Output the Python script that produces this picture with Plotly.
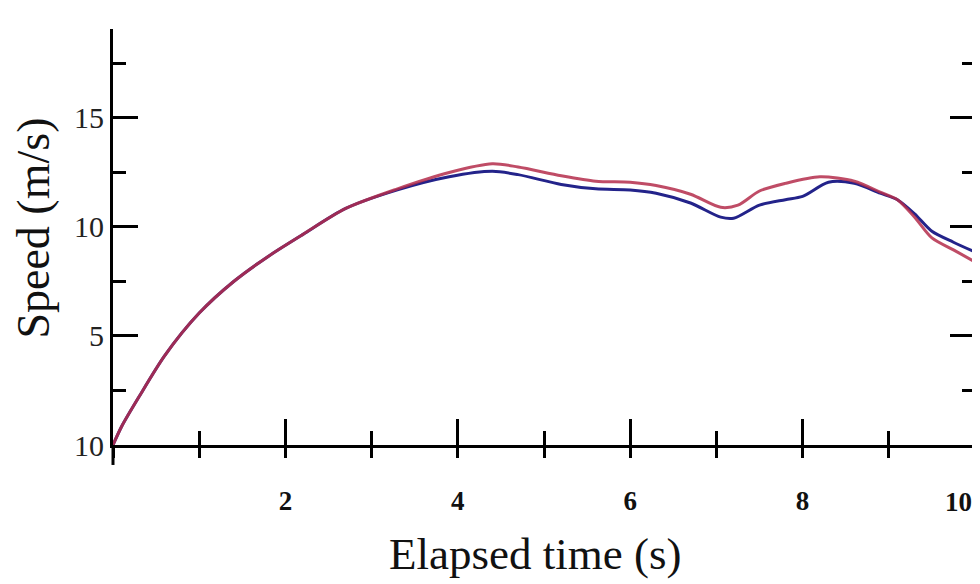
import plotly.graph_objects as go

# Data
time_red = [0, 0.1, 0.3, 0.6, 1.0, 1.4, 1.8, 2.2, 2.7, 3.3, 3.9, 4.4, 4.7, 5.2, 5.6, 6.0,
            6.3, 6.7, 7.05, 7.25, 7.5, 7.8, 8.2, 8.6, 8.9, 9.1, 9.3, 9.5, 9.75, 10.0]
speed_red = [0, 0.85, 2.2, 4.1, 6.05, 7.5, 8.65, 9.65, 10.85, 11.75, 12.5, 12.9, 12.75, 12.35, 12.1, 12.05,
             11.9, 11.5, 10.9, 11.0, 11.65, 12.0, 12.3, 12.1, 11.6, 11.25, 10.45, 9.5, 8.95, 8.4]

time_blue = [0, 0.1, 0.3, 0.6, 1.0, 1.4, 1.8, 2.2, 2.7, 3.3, 3.9, 4.4, 4.7, 5.2, 5.6, 6.0,
             6.3, 6.7, 7.05, 7.2, 7.5, 7.8, 8.0, 8.3, 8.6, 8.9, 9.1, 9.3, 9.5, 9.75, 10.0]
speed_blue = [0, 0.85, 2.2, 4.1, 6.05, 7.5, 8.65, 9.65, 10.85, 11.7, 12.3, 12.55, 12.4, 11.95, 11.75, 11.7,
              11.55, 11.1, 10.45, 10.4, 11.0, 11.25, 11.4, 12.05, 12.0, 11.55, 11.25, 10.6, 9.8, 9.3, 8.85]

x_tick_vals = [2, 4, 6, 8]
x_tick_text = ["2", "4", "6", "8"]
x_last_tick_val = 10
x_last_tick_text = "10"
y_tick_vals = [0, 5, 10, 15]
y_tick_text = ["10", "5", "10", "15"]

x_title = "Elapsed time (s)"
y_title = "Speed (m/s)"

SERIF = "Liberation Serif, Times New Roman, serif"
XTICKFONT = dict(family=SERIF, size=27, color="#111", weight="bold")

fig = go.Figure()
fig.add_trace(go.Scatter(x=time_blue, y=speed_blue, mode="lines",
                         line=dict(color="#23238a", width=3, shape="spline", smoothing=0.8),
                         showlegend=False, hoverinfo="skip"))
fig.add_trace(go.Scatter(x=time_red, y=speed_red, mode="lines",
                         line=dict(color="rgba(180,45,75,0.85)", width=3, shape="spline", smoothing=0.8),
                         showlegend=False, hoverinfo="skip"))
# dummy trace on overlay axis to show outside tick stubs
fig.add_trace(go.Scatter(x=[0, 10], y=[0, 0], xaxis="x2", mode="lines",
                         line=dict(width=0), showlegend=False, hoverinfo="skip"))

fig.update_layout(
    width=980, height=584,
    margin=dict(l=105, r=13, t=21, b=147),
    paper_bgcolor="white", plot_bgcolor="white",
    xaxis=dict(range=[0, 10], showgrid=False, zeroline=False, automargin=False,
               showline=True, linecolor="black", linewidth=3,
               tickmode="array", tickvals=x_tick_vals + [x_last_tick_val], ticktext=x_tick_text + [""],
               ticks="inside", ticklen=26, tickwidth=3, tickcolor="black",
               minor=dict(ticks="inside", dtick=1, tick0=0, ticklen=14, tickwidth=3, tickcolor="black", showgrid=False),
               tickfont=XTICKFONT,
               ticklabelstandoff=30),
    xaxis2=dict(range=[0, 10], overlaying="x", side="bottom", showgrid=False, zeroline=False,
                automargin=False,
                showline=False, tickmode="linear", tick0=0, dtick=1,
                ticks="outside", ticklen=12, tickwidth=3, tickcolor="black", showticklabels=False),
    yaxis=dict(range=[0, 19.08], showgrid=False, zeroline=False, automargin=False,
               showline=True, linecolor="black", linewidth=3, mirror="ticks",
               tickmode="array", tickvals=y_tick_vals, ticktext=y_tick_text,
               ticks="inside", ticklen=25, tickwidth=3, tickcolor="black",
               minor=dict(ticks="inside", dtick=2.5, tick0=0, ticklen=13, tickwidth=3, tickcolor="black", showgrid=False),
               tickfont=dict(family=SERIF, size=30, color="#222")),
    annotations=[
        dict(text=x_last_tick_text, xref="x", yref="paper", x=x_last_tick_val, y=-0.137,
             xanchor="right", yanchor="middle", xshift=-1, showarrow=False, font=XTICKFONT),
        dict(text=x_title, xref="paper", yref="paper", x=0.49, y=-0.262, xanchor="center", yanchor="middle",
             showarrow=False, font=dict(family=SERIF, size=45, color="#111")),
        dict(text=y_title, xref="paper", yref="paper", x=-0.092, y=0.522, xanchor="center", yanchor="middle",
             textangle=-90, showarrow=False, font=dict(family=SERIF, size=46, color="#111")),
    ],
    shapes=[
        dict(type="line", xref="paper", yref="paper", x0=0, x1=0, y0=0, y1=-0.048,
             line=dict(color="black", width=3)),
        dict(type="line", xref="paper", yref="paper", x0=1, x1=1, y0=-0.048, y1=1.036,
             line=dict(color="black", width=3)),
    ],
)

fig.write_html("out.html")
